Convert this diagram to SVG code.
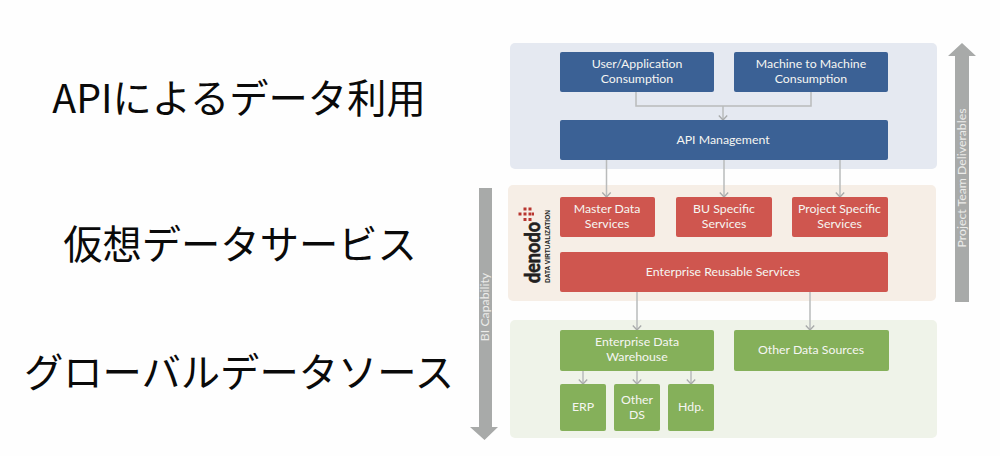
<svg xmlns="http://www.w3.org/2000/svg" width="1000" height="456" viewBox="0 0 1000 456">
  <style>
    .jp { font-family: "Noto Sans CJK JP", "Liberation Sans", sans-serif; font-size: 39.300px; fill: #0a0a0a; text-anchor: middle; }
    .lb { font-family: "Lato", "Open Sans", "Liberation Sans", sans-serif; font-size: 12.300px; fill: #f6f6f2; text-anchor: middle; }
    .blue { fill: #3b6195; }
    .red { fill: #cf564f; }
    .green { fill: #85b05a; }
    .side { font-family: "Lato", "Liberation Sans", sans-serif; font-size: 12.300px; fill: #ececea; text-anchor: middle; }
    .wire { fill: none; stroke: #b9bbbb; stroke-width: 1.500; }
  </style>
  <defs>
    <!-- open chevron, its tip on the +x axis so orient="auto" follows the wire -->
    <marker id="chev" viewBox="0 0 8 10" refX="7" refY="5" markerWidth="8" markerHeight="10" markerUnits="userSpaceOnUse" orient="auto" overflow="visible">
      <path d="M2.500 0.800 L7 5 L2.500 9.200" fill="none" stroke="#a8aaaa" stroke-width="1.300"/>
    </marker>
  </defs>
  <rect width="1000" height="456" fill="#fefefe"/>

  <!-- layer captions -->
  <text class="jp" x="239" y="113">APIによるデータ利用</text>
  <text class="jp" x="240" y="259">仮想データサービス</text>
  <text class="jp" x="239" y="387">グローバルデータソース</text>

  <!-- layer bands -->
  <rect id="band-api" x="510" y="43" width="427" height="126" rx="5" fill="#e5e9f1"/>
  <rect id="band-virtual" x="508" y="185" width="428" height="116" rx="5" fill="#f6eee6"/>
  <rect id="band-sources" x="510" y="320" width="427" height="118" rx="5" fill="#eff3e9"/>

  <!-- side arrows -->
  <g id="arrow-bi">
    <path d="M479 188 H492 V427 H498 L484.500 440 L470 427 H479 Z" fill="#a8aaa9"/>
    <text class="side" transform="translate(489 307) rotate(-90)">BI Capability</text>
  </g>
  <g id="arrow-team">
    <path d="M955 302 V56 H948 L962 43 L976 56 H969 V302 Z" fill="#a8aaa9"/>
    <text class="side" transform="translate(966 178) rotate(-90)">Project Team Deliverables</text>
  </g>

  <!-- connectors -->
  <g id="connectors">
    <path class="wire" d="M636 92 V106 H811 V92"/>
    <path class="wire" d="M723 106 V120" marker-end="url(#chev)"/>
    <path class="wire" d="M606.500 160 V197" marker-end="url(#chev)"/>
    <path class="wire" d="M724 160 V197" marker-end="url(#chev)"/>
    <path class="wire" d="M840 160 V197" marker-end="url(#chev)"/>
    <path class="wire" d="M637 292 V330" marker-end="url(#chev)"/>
    <path class="wire" d="M810 292 V330" marker-end="url(#chev)"/>
    <path class="wire" d="M583 371 V384" marker-end="url(#chev)"/>
    <path class="wire" d="M637 371 V384" marker-end="url(#chev)"/>
    <path class="wire" d="M691 371 V384" marker-end="url(#chev)"/>
  </g>

  <!-- API layer -->
  <g id="user-app">
    <rect class="blue" x="560" y="52" width="154" height="40" rx="2"/>
    <text class="lb" x="637" y="68">User/Application</text>
    <text class="lb" x="637" y="83">Consumption</text>
  </g>
  <g id="m2m">
    <rect class="blue" x="734" y="52" width="154" height="40" rx="2"/>
    <text class="lb" x="811" y="68">Machine to Machine</text>
    <text class="lb" x="811" y="83">Consumption</text>
  </g>
  <g id="api-mgmt">
    <rect class="blue" x="560" y="120" width="328" height="40" rx="2"/>
    <text class="lb" x="723" y="144">API Management</text>
  </g>

  <!-- virtualization layer -->
  <g id="denodo">
    <g fill="#b8352f">
      <rect x="523.500" y="207.500" width="3" height="3"/><rect x="528.500" y="207.500" width="3" height="3"/>
      <rect x="518.500" y="212.500" width="3" height="3"/><rect x="523.500" y="212.500" width="3" height="3"/>
      <rect x="528.500" y="212.500" width="3" height="3"/><rect x="532" y="212.500" width="2" height="3"/>
      <rect x="523.500" y="218" width="3" height="3"/><rect x="528.500" y="218" width="3" height="3"/>
    </g>
    <text transform="translate(540 283) rotate(-90)" font-family="Lato, 'Liberation Sans', sans-serif" font-size="21" font-weight="700" fill="#221f1f" stroke="#221f1f" stroke-width="0.700" textLength="61" lengthAdjust="spacingAndGlyphs">denodo</text>
    <text transform="translate(550 283) rotate(-90)" font-family="'Liberation Sans', sans-serif" font-size="7.500" font-weight="700" fill="#221f1f" textLength="73" lengthAdjust="spacingAndGlyphs">DATA VIRTUALIZATION</text>
  </g>
  <g id="master-data">
    <rect class="red" x="560" y="197" width="95" height="40" rx="2"/>
    <text class="lb" x="607" y="213">Master Data</text>
    <text class="lb" x="607" y="228">Services</text>
  </g>
  <g id="bu-specific">
    <rect class="red" x="676" y="197" width="96" height="40" rx="2"/>
    <text class="lb" x="724" y="213">BU Specific</text>
    <text class="lb" x="724" y="228">Services</text>
  </g>
  <g id="project-specific">
    <rect class="red" x="792" y="197" width="96" height="40" rx="2"/>
    <text class="lb" x="839.500" y="213">Project Specific</text>
    <text class="lb" x="839.500" y="228">Services</text>
  </g>
  <g id="reusable">
    <rect class="red" x="560" y="252" width="328" height="40" rx="2"/>
    <text class="lb" x="723" y="276">Enterprise Reusable Services</text>
  </g>

  <!-- source layer -->
  <g id="edw">
    <rect class="green" x="560" y="330" width="154" height="41" rx="2"/>
    <text class="lb" x="637" y="346">Enterprise Data</text>
    <text class="lb" x="637" y="361">Warehouse</text>
  </g>
  <g id="other-sources">
    <rect class="green" x="734" y="330" width="155" height="41" rx="2"/>
    <text class="lb" x="811" y="354">Other Data Sources</text>
  </g>
  <g id="erp">
    <rect class="green" x="560" y="384" width="46" height="47" rx="2"/>
    <text class="lb" x="583" y="411">ERP</text>
  </g>
  <g id="other-ds">
    <rect class="green" x="614" y="384" width="46" height="47" rx="2"/>
    <text class="lb" x="637" y="404">Other</text>
    <text class="lb" x="637" y="419">DS</text>
  </g>
  <g id="hdp">
    <rect class="green" x="668" y="384" width="46" height="47" rx="2"/>
    <text class="lb" x="691" y="411">Hdp.</text>
  </g>
</svg>
